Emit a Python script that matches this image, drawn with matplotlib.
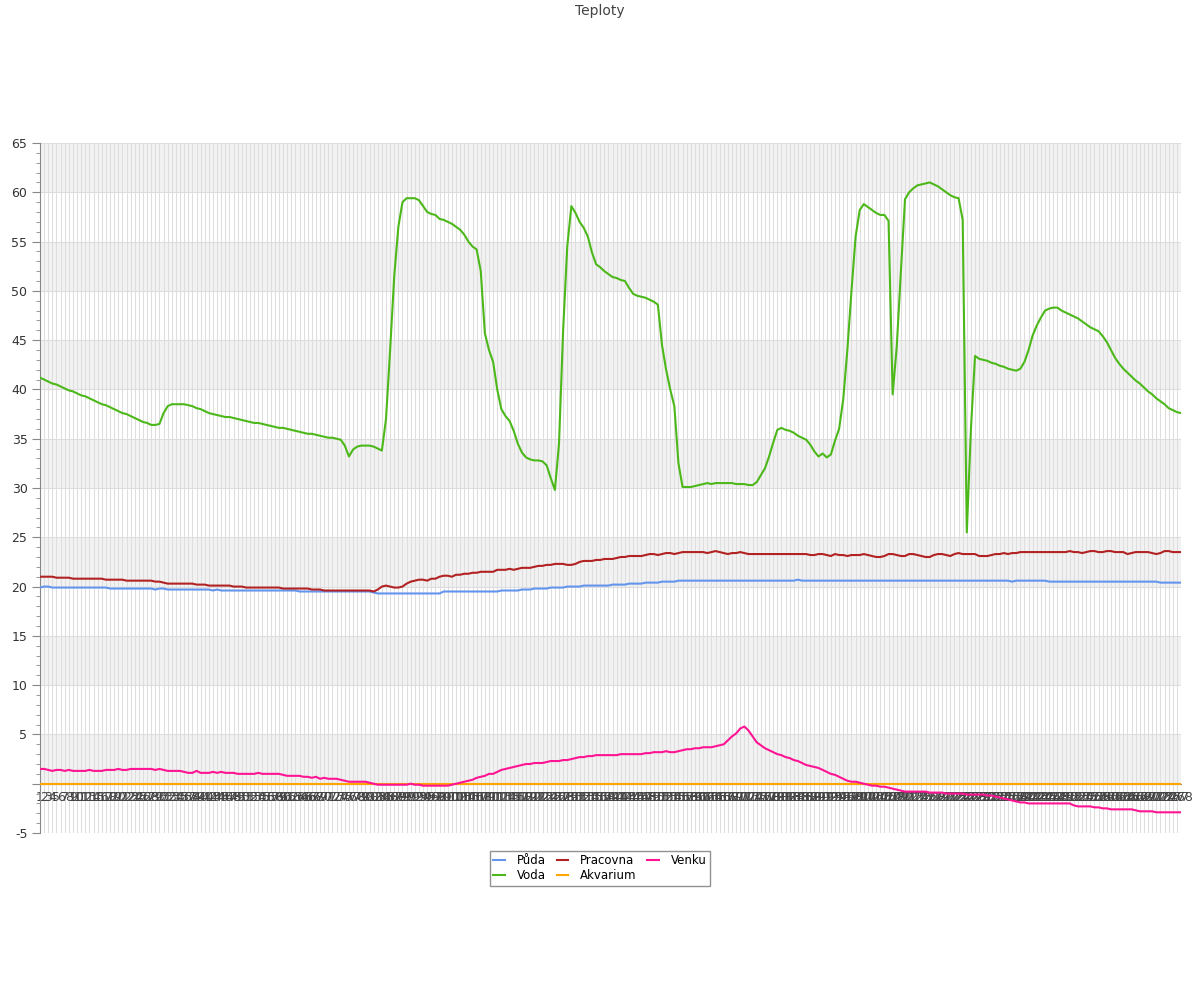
import matplotlib
matplotlib.use("Agg")
import matplotlib.pyplot as plt
from matplotlib.ticker import MultipleLocator, FuncFormatter

title = "Teploty"
series_names = ["Půda", "Voda", "Pracovna", "Akvarium", "Venku"]
series_colors = ["#6495ED", "#4CB81A", "#B22222", "#FFA500", "#FF1493"]

voda = [
    41.2, 41.0, 40.8, 40.6, 40.5, 40.3, 40.1, 39.9, 39.8, 39.6,
    39.4, 39.3, 39.1, 38.9, 38.7, 38.5, 38.4, 38.2, 38.0, 37.8,
    37.6, 37.5, 37.3, 37.1, 36.9, 36.7, 36.6, 36.4, 36.4, 36.5,
    37.6, 38.3, 38.5, 38.5, 38.5, 38.5, 38.4, 38.3, 38.1, 38.0,
    37.8, 37.6, 37.5, 37.4, 37.3, 37.2, 37.2, 37.1, 37.0, 36.9,
    36.8, 36.7, 36.6, 36.6, 36.5, 36.4, 36.3, 36.2, 36.1, 36.1,
    36.0, 35.9, 35.8, 35.7, 35.6, 35.5, 35.5, 35.4, 35.3, 35.2,
    35.1, 35.1, 35.0, 34.9, 34.3, 33.2, 33.9, 34.2, 34.3, 34.3,
    34.3, 34.2, 34.0, 33.8, 37.0, 44.0, 51.5, 56.5, 59.0, 59.4,
    59.4, 59.4, 59.2, 58.6, 58.0, 57.8, 57.7, 57.3, 57.2, 57.0,
    56.8, 56.5, 56.2, 55.7, 55.0, 54.5, 54.2, 52.0, 45.7, 44.0,
    42.8, 40.0, 38.0, 37.3, 36.8, 35.8, 34.5, 33.6, 33.1, 32.9,
    32.8, 32.8, 32.7, 32.3, 31.0, 29.8, 34.5, 46.0, 54.5, 58.6,
    57.9, 57.0, 56.4, 55.5, 53.9, 52.7, 52.4, 52.0, 51.7, 51.4,
    51.3, 51.1, 51.0, 50.3, 49.7, 49.5, 49.4, 49.3, 49.1, 48.9,
    48.6, 44.5, 42.0, 40.0, 38.3, 32.5, 30.1, 30.1, 30.1, 30.2,
    30.3, 30.4, 30.5, 30.4, 30.5, 30.5, 30.5, 30.5, 30.5, 30.4,
    30.4, 30.4, 30.3, 30.3, 30.6, 31.3, 32.0, 33.2, 34.6, 35.9,
    36.1, 35.9, 35.8, 35.6, 35.3, 35.1, 34.9, 34.4, 33.7, 33.2,
    33.5, 33.1, 33.4, 34.8, 36.0, 39.0, 44.0, 50.0, 55.5, 58.2,
    58.8, 58.5, 58.2, 57.9, 57.7, 57.7, 57.1, 39.5, 44.4, 52.0,
    59.3, 60.0, 60.4, 60.7, 60.8, 60.9, 61.0, 60.8, 60.6, 60.3,
    60.0, 59.7, 59.5, 59.4, 57.2, 25.5, 36.0, 43.4, 43.1, 43.0,
    42.9, 42.7, 42.6, 42.4, 42.3, 42.1, 42.0, 41.9, 42.1, 42.8,
    44.0, 45.5, 46.5, 47.3, 48.0, 48.2, 48.3, 48.3, 48.0, 47.8,
    47.6, 47.4, 47.2, 46.9, 46.6, 46.3, 46.1, 45.9, 45.4, 44.8,
    44.0, 43.2, 42.6, 42.1, 41.7, 41.3, 40.9, 40.6, 40.2, 39.8,
    39.5, 39.1, 38.8, 38.5, 38.1, 37.9, 37.7, 37.6,
]

puda = [
    19.9, 20.0, 20.0, 19.9, 19.9, 19.9, 19.9, 19.9, 19.9, 19.9,
    19.9, 19.9, 19.9, 19.9, 19.9, 19.9, 19.9, 19.8, 19.8, 19.8,
    19.8, 19.8, 19.8, 19.8, 19.8, 19.8, 19.8, 19.8, 19.7, 19.8,
    19.8, 19.7, 19.7, 19.7, 19.7, 19.7, 19.7, 19.7, 19.7, 19.7,
    19.7, 19.7, 19.6, 19.7, 19.6, 19.6, 19.6, 19.6, 19.6, 19.6,
    19.6, 19.6, 19.6, 19.6, 19.6, 19.6, 19.6, 19.6, 19.6, 19.6,
    19.6, 19.6, 19.6, 19.5, 19.5, 19.5, 19.5, 19.5, 19.5, 19.5,
    19.5, 19.5, 19.5, 19.5, 19.5, 19.5, 19.5, 19.5, 19.5, 19.5,
    19.5, 19.4, 19.3, 19.3, 19.3, 19.3, 19.3, 19.3, 19.3, 19.3,
    19.3, 19.3, 19.3, 19.3, 19.3, 19.3, 19.3, 19.3, 19.5, 19.5,
    19.5, 19.5, 19.5, 19.5, 19.5, 19.5, 19.5, 19.5, 19.5, 19.5,
    19.5, 19.5, 19.6, 19.6, 19.6, 19.6, 19.6, 19.7, 19.7, 19.7,
    19.8, 19.8, 19.8, 19.8, 19.9, 19.9, 19.9, 19.9, 20.0, 20.0,
    20.0, 20.0, 20.1, 20.1, 20.1, 20.1, 20.1, 20.1, 20.1, 20.2,
    20.2, 20.2, 20.2, 20.3, 20.3, 20.3, 20.3, 20.4, 20.4, 20.4,
    20.4, 20.5, 20.5, 20.5, 20.5, 20.6, 20.6, 20.6, 20.6, 20.6,
    20.6, 20.6, 20.6, 20.6, 20.6, 20.6, 20.6, 20.6, 20.6, 20.6,
    20.6, 20.6, 20.6, 20.6, 20.6, 20.6, 20.6, 20.6, 20.6, 20.6,
    20.6, 20.6, 20.6, 20.6, 20.7, 20.6, 20.6, 20.6, 20.6, 20.6,
    20.6, 20.6, 20.6, 20.6, 20.6, 20.6, 20.6, 20.6, 20.6, 20.6,
    20.6, 20.6, 20.6, 20.6, 20.6, 20.6, 20.6, 20.6, 20.6, 20.6,
    20.6, 20.6, 20.6, 20.6, 20.6, 20.6, 20.6, 20.6, 20.6, 20.6,
    20.6, 20.6, 20.6, 20.6, 20.6, 20.6, 20.6, 20.6, 20.6, 20.6,
    20.6, 20.6, 20.6, 20.6, 20.6, 20.6, 20.5, 20.6, 20.6, 20.6,
    20.6, 20.6, 20.6, 20.6, 20.6, 20.5, 20.5, 20.5, 20.5, 20.5,
    20.5, 20.5, 20.5, 20.5, 20.5, 20.5, 20.5, 20.5, 20.5, 20.5,
    20.5, 20.5, 20.5, 20.5, 20.5, 20.5, 20.5, 20.5, 20.5, 20.5,
    20.5, 20.5, 20.4, 20.4, 20.4, 20.4, 20.4, 20.4,
]

pracovna = [
    21.0, 21.0, 21.0, 21.0, 20.9, 20.9, 20.9, 20.9, 20.8, 20.8,
    20.8, 20.8, 20.8, 20.8, 20.8, 20.8, 20.7, 20.7, 20.7, 20.7,
    20.7, 20.6, 20.6, 20.6, 20.6, 20.6, 20.6, 20.6, 20.5, 20.5,
    20.4, 20.3, 20.3, 20.3, 20.3, 20.3, 20.3, 20.3, 20.2, 20.2,
    20.2, 20.1, 20.1, 20.1, 20.1, 20.1, 20.1, 20.0, 20.0, 20.0,
    19.9, 19.9, 19.9, 19.9, 19.9, 19.9, 19.9, 19.9, 19.9, 19.8,
    19.8, 19.8, 19.8, 19.8, 19.8, 19.8, 19.7, 19.7, 19.7, 19.6,
    19.6, 19.6, 19.6, 19.6, 19.6, 19.6, 19.6, 19.6, 19.6, 19.6,
    19.6, 19.5, 19.7, 20.0, 20.1, 20.0, 19.9, 19.9, 20.0, 20.3,
    20.5, 20.6, 20.7, 20.7, 20.6, 20.8, 20.8, 21.0, 21.1, 21.1,
    21.0, 21.2, 21.2, 21.3, 21.3, 21.4, 21.4, 21.5, 21.5, 21.5,
    21.5, 21.7, 21.7, 21.7, 21.8, 21.7, 21.8, 21.9, 21.9, 21.9,
    22.0, 22.1, 22.1, 22.2, 22.2, 22.3, 22.3, 22.3, 22.2, 22.2,
    22.3, 22.5, 22.6, 22.6, 22.6, 22.7, 22.7, 22.8, 22.8, 22.8,
    22.9, 23.0, 23.0, 23.1, 23.1, 23.1, 23.1, 23.2, 23.3, 23.3,
    23.2, 23.3, 23.4, 23.4, 23.3, 23.4, 23.5, 23.5, 23.5, 23.5,
    23.5, 23.5, 23.4, 23.5, 23.6, 23.5, 23.4, 23.3, 23.4, 23.4,
    23.5, 23.4, 23.3, 23.3, 23.3, 23.3, 23.3, 23.3, 23.3, 23.3,
    23.3, 23.3, 23.3, 23.3, 23.3, 23.3, 23.3, 23.2, 23.2, 23.3,
    23.3, 23.2, 23.1, 23.3, 23.2, 23.2, 23.1, 23.2, 23.2, 23.2,
    23.3, 23.2, 23.1, 23.0, 23.0, 23.1, 23.3, 23.3, 23.2, 23.1,
    23.1, 23.3, 23.3, 23.2, 23.1, 23.0, 23.0, 23.2, 23.3, 23.3,
    23.2, 23.1, 23.3, 23.4, 23.3, 23.3, 23.3, 23.3, 23.1, 23.1,
    23.1, 23.2, 23.3, 23.3, 23.4, 23.3, 23.4, 23.4, 23.5, 23.5,
    23.5, 23.5, 23.5, 23.5, 23.5, 23.5, 23.5, 23.5, 23.5, 23.5,
    23.6, 23.5, 23.5, 23.4, 23.5, 23.6, 23.6, 23.5, 23.5, 23.6,
    23.6, 23.5, 23.5, 23.5, 23.3, 23.4, 23.5, 23.5, 23.5, 23.5,
    23.4, 23.3, 23.4, 23.6, 23.6, 23.5, 23.5, 23.5,
]

akvarium = [
    0.0, 0.0, 0.0, 0.0, 0.0, 0.0, 0.0, 0.0, 0.0, 0.0,
    0.0, 0.0, 0.0, 0.0, 0.0, 0.0, 0.0, 0.0, 0.0, 0.0,
    0.0, 0.0, 0.0, 0.0, 0.0, 0.0, 0.0, 0.0, 0.0, 0.0,
    0.0, 0.0, 0.0, 0.0, 0.0, 0.0, 0.0, 0.0, 0.0, 0.0,
    0.0, 0.0, 0.0, 0.0, 0.0, 0.0, 0.0, 0.0, 0.0, 0.0,
    0.0, 0.0, 0.0, 0.0, 0.0, 0.0, 0.0, 0.0, 0.0, 0.0,
    0.0, 0.0, 0.0, 0.0, 0.0, 0.0, 0.0, 0.0, 0.0, 0.0,
    0.0, 0.0, 0.0, 0.0, 0.0, 0.0, 0.0, 0.0, 0.0, 0.0,
    0.0, 0.0, 0.0, 0.0, 0.0, 0.0, 0.0, 0.0, 0.0, 0.0,
    0.0, 0.0, 0.0, 0.0, 0.0, 0.0, 0.0, 0.0, 0.0, 0.0,
    0.0, 0.0, 0.0, 0.0, 0.0, 0.0, 0.0, 0.0, 0.0, 0.0,
    0.0, 0.0, 0.0, 0.0, 0.0, 0.0, 0.0, 0.0, 0.0, 0.0,
    0.0, 0.0, 0.0, 0.0, 0.0, 0.0, 0.0, 0.0, 0.0, 0.0,
    0.0, 0.0, 0.0, 0.0, 0.0, 0.0, 0.0, 0.0, 0.0, 0.0,
    0.0, 0.0, 0.0, 0.0, 0.0, 0.0, 0.0, 0.0, 0.0, 0.0,
    0.0, 0.0, 0.0, 0.0, 0.0, 0.0, 0.0, 0.0, 0.0, 0.0,
    0.0, 0.0, 0.0, 0.0, 0.0, 0.0, 0.0, 0.0, 0.0, 0.0,
    0.0, 0.0, 0.0, 0.0, 0.0, 0.0, 0.0, 0.0, 0.0, 0.0,
    0.0, 0.0, 0.0, 0.0, 0.0, 0.0, 0.0, 0.0, 0.0, 0.0,
    0.0, 0.0, 0.0, 0.0, 0.0, 0.0, 0.0, 0.0, 0.0, 0.0,
    0.0, 0.0, 0.0, 0.0, 0.0, 0.0, 0.0, 0.0, 0.0, 0.0,
    0.0, 0.0, 0.0, 0.0, 0.0, 0.0, 0.0, 0.0, 0.0, 0.0,
    0.0, 0.0, 0.0, 0.0, 0.0, 0.0, 0.0, 0.0, 0.0, 0.0,
    0.0, 0.0, 0.0, 0.0, 0.0, 0.0, 0.0, 0.0, 0.0, 0.0,
    0.0, 0.0, 0.0, 0.0, 0.0, 0.0, 0.0, 0.0, 0.0, 0.0,
    0.0, 0.0, 0.0, 0.0, 0.0, 0.0, 0.0, 0.0, 0.0, 0.0,
    0.0, 0.0, 0.0, 0.0, 0.0, 0.0, 0.0, 0.0, 0.0, 0.0,
    0.0, 0.0, 0.0, 0.0, 0.0, 0.0, 0.0, 0.0,
]

venku = [
    1.5, 1.5, 1.4, 1.3, 1.4, 1.4, 1.3, 1.4, 1.3, 1.3,
    1.3, 1.3, 1.4, 1.3, 1.3, 1.3, 1.4, 1.4, 1.4, 1.5,
    1.4, 1.4, 1.5, 1.5, 1.5, 1.5, 1.5, 1.5, 1.4, 1.5,
    1.4, 1.3, 1.3, 1.3, 1.3, 1.2, 1.1, 1.1, 1.3, 1.1,
    1.1, 1.1, 1.2, 1.1, 1.2, 1.1, 1.1, 1.1, 1.0, 1.0,
    1.0, 1.0, 1.0, 1.1, 1.0, 1.0, 1.0, 1.0, 1.0, 0.9,
    0.8, 0.8, 0.8, 0.8, 0.7, 0.7, 0.6, 0.7, 0.5, 0.6,
    0.5, 0.5, 0.5, 0.4, 0.3, 0.2, 0.2, 0.2, 0.2, 0.2,
    0.1, 0.0, -0.1, -0.1, -0.1, -0.1, -0.1, -0.1, -0.1, -0.1,
    0.0, -0.1, -0.1, -0.2, -0.2, -0.2, -0.2, -0.2, -0.2, -0.2,
    -0.1, 0.0, 0.1, 0.2, 0.3, 0.4, 0.6, 0.7, 0.8, 1.0,
    1.0, 1.2, 1.4, 1.5, 1.6, 1.7, 1.8, 1.9, 2.0, 2.0,
    2.1, 2.1, 2.1, 2.2, 2.3, 2.3, 2.3, 2.4, 2.4, 2.5,
    2.6, 2.7, 2.7, 2.8, 2.8, 2.9, 2.9, 2.9, 2.9, 2.9,
    2.9, 3.0, 3.0, 3.0, 3.0, 3.0, 3.0, 3.1, 3.1, 3.2,
    3.2, 3.2, 3.3, 3.2, 3.2, 3.3, 3.4, 3.5, 3.5, 3.6,
    3.6, 3.7, 3.7, 3.7, 3.8, 3.9, 4.0, 4.4, 4.8, 5.1,
    5.6, 5.8, 5.4, 4.8, 4.2, 3.9, 3.6, 3.4, 3.2, 3.0,
    2.9, 2.7, 2.6, 2.4, 2.3, 2.1, 1.9, 1.8, 1.7, 1.6,
    1.4, 1.2, 1.0, 0.9, 0.7, 0.5, 0.3, 0.2, 0.2, 0.1,
    0.0, -0.1, -0.2, -0.2, -0.3, -0.3, -0.4, -0.5, -0.6, -0.7,
    -0.8, -0.8, -0.8, -0.8, -0.8, -0.8, -0.9, -0.9, -0.9, -0.9,
    -1.0, -1.0, -1.0, -1.0, -1.0, -1.1, -1.1, -1.1, -1.1, -1.1,
    -1.2, -1.2, -1.3, -1.4, -1.5, -1.6, -1.7, -1.8, -1.9, -1.9,
    -2.0, -2.0, -2.0, -2.0, -2.0, -2.0, -2.0, -2.0, -2.0, -2.0,
    -2.0, -2.2, -2.3, -2.3, -2.3, -2.3, -2.4, -2.4, -2.5, -2.5,
    -2.6, -2.6, -2.6, -2.6, -2.6, -2.6, -2.7, -2.8, -2.8, -2.8,
    -2.8, -2.9, -2.9, -2.9, -2.9, -2.9, -2.9, -2.9,
]

categories = [str(k + 1) for k in range(len(voda))]
series_values = [puda, voda, pracovna, akvarium, venku]

fig = plt.figure(figsize=(12, 10), dpi=100)
ax = fig.add_axes([40 / 1200, 167 / 1000, 1141 / 1200, 690 / 1000])

ymin, ymax = -5, 65
ax.set_ylim(ymin, ymax)
ax.set_xlim(0, len(categories) - 1)

# alternating bands
for lo in range(0, 65, 10):
    ax.axhspan(lo, lo + 5, color="#f2f2f2", zorder=0, lw=0)

xs = list(range(len(categories)))
for x in xs:
    ax.axvline(x, color="#dedede", lw=0.75, zorder=0.5)
for yv in range(ymin, ymax + 1, 5):
    ax.axhline(yv, color="#dddddd", lw=0.75, zorder=0.6)

for name, vals, col in zip(series_names, series_values, series_colors):
    ax.plot(xs, vals, color=col, lw=1.5, label=name, zorder=3,
            solid_joinstyle="round")

for s in ["top", "right"]:
    ax.spines[s].set_visible(False)
ax.spines["left"].set_color("#888888")
ax.spines["bottom"].set_position(("data", 0))
ax.spines["bottom"].set_color("#888888")
ax.spines["bottom"].set_zorder(2)

ax.yaxis.set_major_locator(MultipleLocator(5))
ax.yaxis.set_minor_locator(MultipleLocator(1))
ax.yaxis.set_major_formatter(FuncFormatter(lambda v, p: "" if abs(v) < 1e-9 else f"{v:.0f}"))
ax.tick_params(axis="y", which="major", length=6, color="#888888",
               labelsize=9, labelcolor="#333333", pad=3)
ax.tick_params(axis="y", which="minor", length=3, color="#888888")

ax.set_xticks(xs)
ax.set_xticklabels(categories)
ax.tick_params(axis="x", length=0, labelsize=9, labelcolor="#444444", pad=5)

fig.text(0.5, 1 - 11 / 1000, title, ha="center", va="center",
         fontsize=10, color="#444444")

leg = fig.legend(loc="upper center", bbox_to_anchor=(0.5, 1 - 845 / 1000),
                 ncol=3, fontsize=8.5, frameon=True, fancybox=False,
                 edgecolor="#777777", handlelength=1.0, handletextpad=1.0,
                 columnspacing=0.9, borderpad=0.3, labelspacing=0.15)
leg.get_frame().set_linewidth(1.0)

fig.savefig("out.png", dpi=100)
